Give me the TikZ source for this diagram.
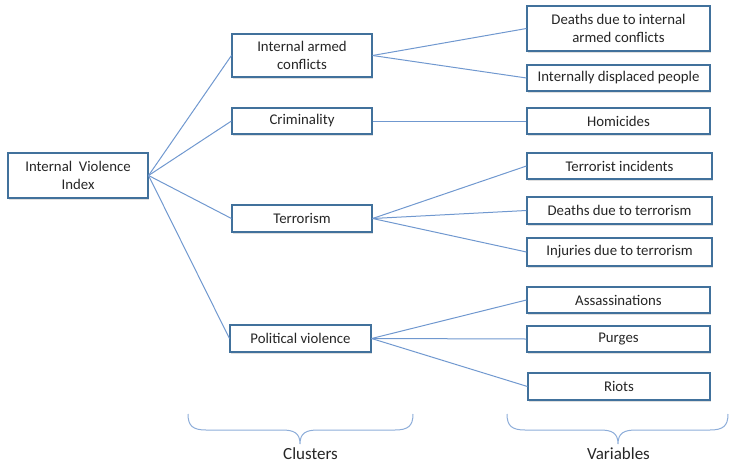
\documentclass[tikz,border=0pt]{standalone}
\usepackage{fontspec}
\setmainfont{Carlito}
\usetikzlibrary{shadows}
\definecolor{boxline}{HTML}{41719C}
\definecolor{conn}{HTML}{7098CF}
\definecolor{txt}{HTML}{262626}
\begin{document}
\begin{tikzpicture}[x=1pt,y=-1pt,
  box/.style={draw=boxline, line width=1.1pt, fill=white, text=txt, align=center,
    font=\fontsize{14.8}{17.5}\selectfont, inner sep=0pt,
    drop shadow={opacity=0.25, shadow xshift=1.2pt, shadow yshift=-1.5pt}},
  link/.style={draw=conn, line width=1pt},
  brc/.style={draw=conn!80, line width=1pt},
  lab/.style={text=txt, font=\fontsize{17}{19}\selectfont, inner sep=0pt}]
\useasboundingbox (0,0) rectangle (730,463);
% root
\node[box, minimum width=140pt, minimum height=45pt] (idx) at (78,175.5) {Internal\ \ Violence\\Index};
% clusters
\node[box, minimum width=140pt, minimum height=43pt] (iac) at (302,55.5) {Internal armed\\conflicts};
\node[box, minimum width=140pt, minimum height=26pt] (cri) at (302,121) {Criminality};
\node[box, minimum width=140pt, minimum height=27pt] (ter) at (302,218.5) {Terrorism};
\node[box, minimum width=141pt, minimum height=27pt] (pol) at (300.5,338.5) {Political violence};
% variables
\node[box, minimum width=183pt, minimum height=45pt] (v1) at (618.5,28.5) {Deaths due to internal\\armed conflicts};
\node[box, minimum width=183pt, minimum height=26pt] (v2) at (618.5,78) {Internally displaced people};
\node[box, minimum width=183pt, minimum height=26pt] (v3) at (618.5,121) {Homicides};
\node[box, minimum width=185pt, minimum height=26pt] (v4) at (619.5,166) {Terrorist incidents};
\node[box, minimum width=185pt, minimum height=27pt] (v5) at (619.5,210.5) {Deaths due to terrorism};
\node[box, minimum width=185pt, minimum height=28pt] (v6) at (619.5,252) {Injuries due to terrorism};
\node[box, minimum width=183pt, minimum height=26pt] (v7) at (618.5,300) {Assassinations};
\node[box, minimum width=183pt, minimum height=26pt] (v8) at (618.5,339) {Purges};
\node[box, minimum width=182pt, minimum height=27pt] (v9) at (619,386.5) {Riots};
% connectors
\foreach \c in {iac,cri,ter,pol} \draw[link] (idx.east) -- (\c.west);
\draw[link] (iac.east) -- (v1.west);
\draw[link] (iac.east) -- (v2.west);
\draw[link] (cri.east) -- (v3.west);
\draw[link] (ter.east) -- (v4.west);
\draw[link] (ter.east) -- (v5.west);
\draw[link] (ter.east) -- (v6.west);
\draw[link] (pol.east) -- (v7.west);
\draw[link] (pol.east) -- (v8.west);
\draw[link] (pol.east) -- (v9.west);
% braces
\draw[brc] (188,414) .. controls (188,426) and (193,430) .. (206,430) -- (282,430)
  .. controls (294,430) and (300,433) .. (300,444)
  .. controls (300,433) and (306,430) .. (318,430) -- (395,430)
  .. controls (408,430) and (413,426) .. (413,414);
\draw[brc] (507,414) .. controls (507,426) and (512,430) .. (525,430) -- (600,430)
  .. controls (612,430) and (618,433) .. (618,444)
  .. controls (618,433) and (624,430) .. (636,430) -- (710,430)
  .. controls (723,430) and (728,426) .. (728,414);
\node[lab] (lc) at (310.5,454) {Clusters};
\node[lab] (lv) at (618.5,454) {Variables};
\end{tikzpicture}
\end{document}
